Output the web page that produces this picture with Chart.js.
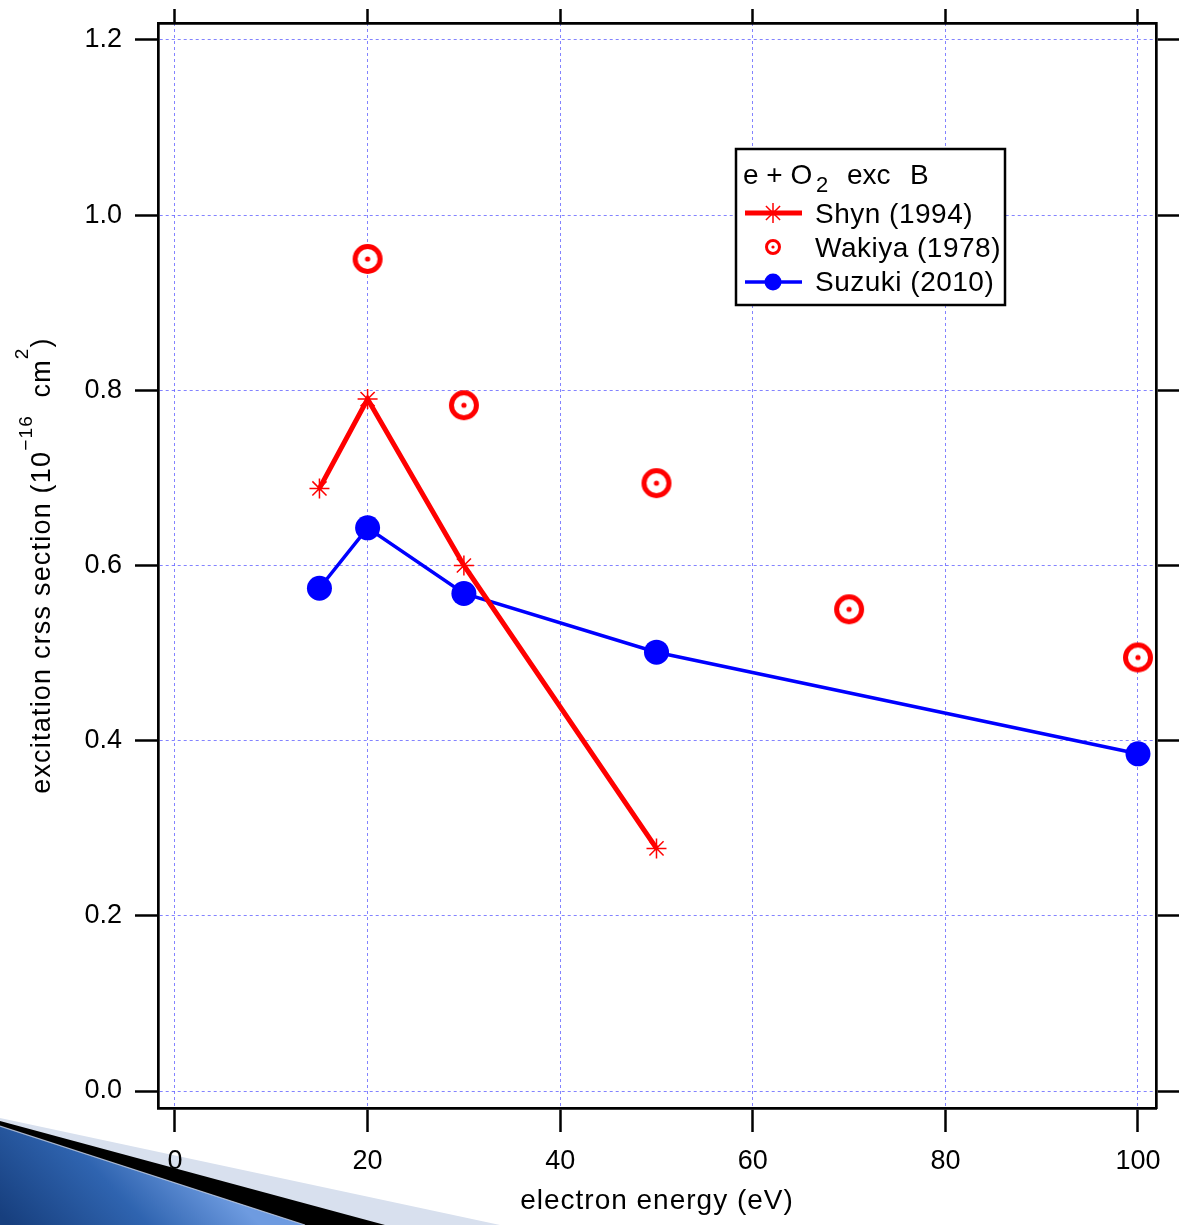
<!DOCTYPE html>
<html><head><meta charset="utf-8">
<script src="https://cdn.jsdelivr.net/npm/chart.js@4.4.1/dist/chart.umd.min.js"></script>
<style>html,body{margin:0;padding:0;background:#fff;}#wrap{width:1183px;height:1225px;position:relative;}</style>
</head><body><div id="wrap"><canvas id="c" width="1183" height="1225"></canvas></div>
<script>
// ---- data ----
const xTicks = [0, 20, 40, 60, 80, 100];
const yTicks = [0, 0.2, 0.4, 0.6, 0.8, 1.0, 1.2];
const shynX = [15, 20, 30, 50];
const shynY = [0.688, 0.790, 0.600, 0.277];
const wakiyaX = [20, 30, 50, 70, 100];
const wakiyaY = [0.950, 0.783, 0.694, 0.550, 0.495];
const suzukiX = [15, 20, 30, 50, 100];
const suzukiY = [0.574, 0.643, 0.568, 0.501, 0.385];
const seriesNames = ['Shyn (1994)', 'Wakiya (1978)', 'Suzuki (2010)'];
const xTitle = 'electron energy (eV)';

const FONT = '"Liberation Sans", Arial, sans-serif';
const RED = '#ff0000', BLUE = '#0000ff';
const GRID = 'rgba(90,90,255,0.75)';

function ringImage(size, r, lw, dot) {
  const c = document.createElement('canvas');
  c.width = size; c.height = size;
  const g = c.getContext('2d');
  g.strokeStyle = RED; g.lineWidth = lw;
  g.fillStyle = '#fff';
  g.beginPath(); g.arc(size/2, size/2, r, 0, Math.PI*2); g.fill(); g.stroke();
  g.fillStyle = RED;
  g.beginPath(); g.arc(size/2, size/2, dot, 0, Math.PI*2); g.fill();
  return c;
}
const ringBig = ringImage(34, 12.5, 5, 2.6);
const ringSmall = ringImage(20, 6.5, 3, 1.6);

const toPts = (xs, ys) => xs.map((x, i) => ({x: x, y: ys[i]}));

const decoPlugin = {
  id: 'deco',
  beforeDraw(chart) {
    const ctx = chart.ctx;
    ctx.save();
    ctx.fillStyle = '#fff';
    ctx.fillRect(0, 0, chart.width, chart.height);
    ctx.fillStyle = '#d8e0ee';
    ctx.beginPath(); ctx.moveTo(0, 1118); ctx.lineTo(500, 1225); ctx.lineTo(0, 1225); ctx.closePath(); ctx.fill();
    ctx.fillStyle = '#000';
    ctx.beginPath(); ctx.moveTo(0, 1121); ctx.lineTo(385, 1225); ctx.lineTo(0, 1225); ctx.closePath(); ctx.fill();
    const gr = ctx.createLinearGradient(20, 1235, 150, 1110);
    gr.addColorStop(0, '#173f7e');
    gr.addColorStop(0.55, '#2f64b0');
    gr.addColorStop(1, '#6e9be0');
    ctx.fillStyle = gr;
    ctx.beginPath(); ctx.moveTo(0, 1126); ctx.lineTo(305, 1225); ctx.lineTo(0, 1225); ctx.closePath(); ctx.fill();
    ctx.strokeStyle = 'rgba(200,210,230,0.8)'; ctx.lineWidth = 1.2;
    ctx.beginPath(); ctx.moveTo(0, 1126); ctx.lineTo(305, 1225); ctx.stroke();
    ctx.restore();
  },
  afterDraw(chart) {
    const ctx = chart.ctx;
    const area = chart.chartArea;
    // x axis title
    ctx.save();
    ctx.fillStyle = '#000'; ctx.textBaseline = 'alphabetic'; ctx.textAlign = 'center';
    ctx.font = '28px ' + FONT;
    ctx.letterSpacing = '1px';
    ctx.fillText(xTitle, (area.left + area.right) / 2, 1209);
    ctx.restore();

    // y axis title
    ctx.save();
    ctx.translate(50, (area.top + area.bottom) / 2);
    ctx.rotate(-Math.PI/2);
    ctx.letterSpacing = '1.2px';
    const parts = [
      {t: 'excitation crss section (10', s: 27, dy: 0},
      {t: '\u221216', s: 19, dy: -18},
      {t: '  cm', s: 27, dy: 0},
      {t: '2', s: 19, dy: -22},
      {t: ')', s: 27, dy: 0}
    ];
    let W = 0;
    parts.forEach(p => { ctx.font = p.s + 'px ' + FONT; p.w = ctx.measureText(p.t).width; W += p.w; });
    let x = -W/2;
    ctx.fillStyle = '#000'; ctx.textBaseline = 'alphabetic'; ctx.textAlign = 'left';
    parts.forEach(p => { ctx.font = p.s + 'px ' + FONT; ctx.fillText(p.t, x, p.dy); x += p.w; });
    ctx.restore();

    // legend
    ctx.save();
    ctx.fillStyle = '#fff';
    ctx.fillRect(736, 149, 269, 156);
    ctx.strokeStyle = '#000'; ctx.lineWidth = 2.5;
    ctx.strokeRect(736, 149, 269, 156);
    ctx.fillStyle = '#000'; ctx.textBaseline = 'alphabetic'; ctx.textAlign = 'left';
    ctx.font = '28px ' + FONT;
    ctx.fillText('e + O', 743, 184);
    ctx.font = '22px ' + FONT;
    ctx.fillText('2', 816, 192);
    ctx.font = '28px ' + FONT;
    ctx.fillText('exc', 847, 184);
    ctx.fillText('B', 910, 184);
    const rows = [213, 247, 282];
    const base = [223, 257, 291];
    ctx.letterSpacing = '0.5px';
    seriesNames.forEach((n, i) => ctx.fillText(n, 815, base[i]));
    ctx.letterSpacing = '0px';
    ctx.strokeStyle = RED; ctx.lineWidth = 5;
    ctx.beginPath(); ctx.moveTo(745, rows[0]); ctx.lineTo(802, rows[0]); ctx.stroke();
    ctx.lineWidth = 1.5;
    const r = 10, cx = 773, cy = rows[0];
    ctx.beginPath();
    ctx.moveTo(cx - r, cy); ctx.lineTo(cx + r, cy);
    ctx.moveTo(cx, cy - r); ctx.lineTo(cx, cy + r);
    const d = r * Math.SQRT1_2;
    ctx.moveTo(cx - d, cy - d); ctx.lineTo(cx + d, cy + d);
    ctx.moveTo(cx - d, cy + d); ctx.lineTo(cx + d, cy - d);
    ctx.stroke();
    ctx.drawImage(ringSmall, 773 - 10, rows[1] - 10);
    ctx.strokeStyle = BLUE; ctx.lineWidth = 3.5;
    ctx.beginPath(); ctx.moveTo(745, rows[2]); ctx.lineTo(802, rows[2]); ctx.stroke();
    ctx.fillStyle = BLUE;
    ctx.beginPath(); ctx.arc(773, rows[2], 8.5, 0, Math.PI*2); ctx.fill();
    ctx.restore();
  }
};

const tickFont = {family: FONT, size: 27};
const noPad = s => { s.paddingTop = 0; s.paddingBottom = 0; s.paddingLeft = 0; s.paddingRight = 0; };
function axisBase(extra) {
  return Object.assign({
    type: 'linear',
    border: {color: '#000', width: 2.7, dash: [3, 3]}
  }, extra);
}

new Chart(document.getElementById('c'), {
  type: 'line',
  data: {
    datasets: [
      {label: seriesNames[0], data: toPts(shynX, shynY), borderColor: RED, backgroundColor: RED, borderWidth: 5,
       pointStyle: 'star', pointRadius: 10, pointBorderWidth: 1.5, pointBorderColor: RED, fill: false, tension: 0},
      {label: seriesNames[1], data: toPts(wakiyaX, wakiyaY), showLine: false, pointStyle: ringBig, pointRadius: 15,
       borderColor: RED, backgroundColor: RED},
      {label: seriesNames[2], data: toPts(suzukiX, suzukiY), borderColor: BLUE, backgroundColor: BLUE, borderWidth: 3.5,
       pointStyle: 'circle', pointRadius: 12.5, pointBorderWidth: 0, pointBackgroundColor: BLUE, fill: false, tension: 0}
    ]
  },
  options: {
    responsive: false, animation: false, devicePixelRatio: 1,
    layout: {padding: 0},
    plugins: {legend: {display: false}, tooltip: {enabled: false}},
    scales: {
      x: axisBase({position: 'bottom', min: -1.765, max: 101.87,
        afterBuildTicks: s => { s.ticks = xTicks.map(v => ({value: v})); },
        afterFit: s => { s.height = 117; noPad(s); },
        grid: {color: GRID, lineWidth: 1, tickColor: '#000', tickWidth: 2.5, tickLength: 24, tickBorderDash: []},
        ticks: {font: tickFont, color: '#000', padding: 13, maxRotation: 0, autoSkip: false, callback: v => String(v)}
      }),
      x2: axisBase({position: 'top', min: -1.765, max: 101.87,
        afterBuildTicks: s => { s.ticks = xTicks.map(v => ({value: v})); },
        afterFit: s => { s.height = 23; noPad(s); },
        grid: {drawOnChartArea: false, tickColor: '#000', tickWidth: 2.5, tickLength: 14, tickBorderDash: []},
        ticks: {display: false}
      }),
      y: axisBase({position: 'left', min: -0.0194, max: 1.2194,
        afterBuildTicks: s => { s.ticks = yTicks.map(v => ({value: v})); },
        afterFit: s => { s.width = 158; noPad(s); },
        grid: {color: GRID, lineWidth: 1, tickColor: '#000', tickWidth: 2.5, tickLength: 23, tickBorderDash: []},
        ticks: {font: tickFont, color: '#000', padding: 13, autoSkip: false, callback: v => v.toFixed(1)}
      }),
      y2: axisBase({position: 'right', min: -0.0194, max: 1.2194,
        afterBuildTicks: s => { s.ticks = yTicks.map(v => ({value: v})); },
        afterFit: s => { s.width = 27; noPad(s); },
        grid: {drawOnChartArea: false, tickColor: '#000', tickWidth: 2.5, tickLength: 23, tickBorderDash: []},
        ticks: {display: false}
      })
    }
  },
  plugins: [decoPlugin]
});
</script></body></html>
